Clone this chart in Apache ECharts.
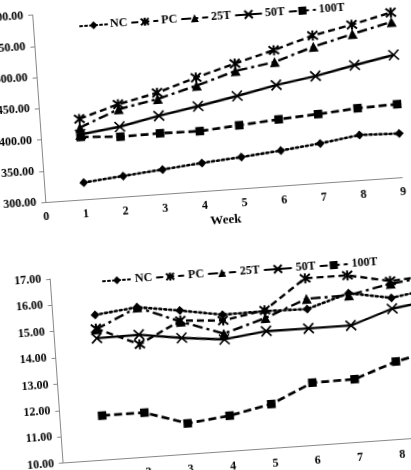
<!DOCTYPE html>
<html>
<head>
<meta charset="utf-8">
<script src="https://cdn.jsdelivr.net/npm/echarts@6/dist/echarts.min.js"></script>
<style>
html,body{margin:0;padding:0;background:#fff;overflow:hidden;width:411px;height:470px;}
#wrap{position:absolute;left:-40px;top:-40px;width:491px;height:550px;transform-origin:245.5px 275px;transform:rotate(-4deg);}
#chart{width:491px;height:550px;}
</style>
</head>
<body>
<div id="wrap"><div id="chart"></div></div>
<script>
// Shared categories
const weeks = [1, 2, 3, 4, 5, 6, 7, 8, 9];
const seriesNames = ['NC', 'PC', '25T', '50T', '100T'];

// Top chart values
const topNC   = [327, 333, 339, 345, 350, 356, 363, 372, 370];
const topPC   = [429, 448, 462, 482, 500, 517, 536, 549, 564];
const top25T  = [415, 440, 452, 469, 488, 498, 518, 534, 549];
const top50T  = [404, 412, 425, 436, 448, 461, 471, 484, 496];
const top100T = [400, 396, 397, 396, 401, 406, 410, 415, 417];

// Bottom chart values
const botNC   = [15.52, 15.70, 15.46, 15.19, 15.21, 15.18, 15.67, 15.38, 15.63];
const botPC   = [15.00, 14.29, 15.08, 14.97, 15.25, 16.35, 16.35, 16.02, 16.13];
const bot25T  = [14.97, 15.69, 15.04, 14.47, 14.95, 15.57, 15.59, 15.92, 16.10];
const bot50T  = [14.63, 14.65, 14.42, 14.25, 14.45, 14.44, 14.44, 14.97, 15.19];
const bot100T = [11.69, 11.69, 11.17, 11.35, 11.68, 12.38, 12.40, 12.96, 13.30];

// Axis ticks
const topY = {min: 300, max: 600, interval: 50};
const botY = {min: 10, max: 17, interval: 1};
const xAxisRange = {min: 0, max: 9, interval: 1};
const xName = 'Week';

const FONT = '"Liberation Serif", "Times New Roman", serif';
const ASTERISK = 'path://M0,0L10,10M10,0L0,10M5,-1L5,11';
const CROSS = 'path://M0,0L10,10M10,0L0,10';

const styles = {
  'NC':   {symbol: 'diamond', size: 9, line: {type: [2, 3], width: 2.6, cap: 'round'}, border: 0},
  'PC':   {symbol: ASTERISK, size: 10, line: {type: [7, 4], width: 2.4}, border: 2},
  '25T':  {symbol: 'triangle', size: 10, line: {type: [10, 4, 3, 4], width: 2.4}, border: 0},
  '50T':  {symbol: CROSS, size: 10, line: {type: 'solid', width: 2.3}, border: 1.7},
  '100T': {symbol: 'rect', size: 8.5, line: {type: [8, 4], width: 2.7}, border: 0}
};

function mk(name, vals, idx) {
  const s = styles[name];
  return {
    name: name, type: 'line', xAxisIndex: idx, yAxisIndex: idx,
    data: weeks.map((w, i) => [w, vals[i]]),
    symbol: s.symbol, symbolSize: s.size, showSymbol: true,
    lineStyle: Object.assign({color: '#000'}, s.line),
    itemStyle: {color: '#000', borderColor: '#000', borderWidth: s.border},
    emphasis: {disabled: true}
  };
}

const labelStyle = {color: '#000', fontFamily: FONT, fontWeight: 'bold', fontSize: 12};

function xAx(idx, withName) {
  const a = {
    type: 'value', gridIndex: idx, min: xAxisRange.min, max: xAxisRange.max, interval: xAxisRange.interval,
    axisLine: {show: true, lineStyle: {color: '#888', width: 1}},
    axisTick: {show: false}, splitLine: {show: false},
    axisLabel: Object.assign({margin: 9}, labelStyle)
  };
  if (withName) {
    a.name = xName; a.nameLocation = 'middle'; a.nameGap = 24;
    a.nameTextStyle = {color: '#000', fontFamily: FONT, fontWeight: 'bold', fontSize: 13};
  }
  return a;
}
function yAx(idx, r) {
  return {
    type: 'value', gridIndex: idx, min: r.min, max: r.max, interval: r.interval,
    axisLine: {show: true, lineStyle: {color: '#888', width: 1}},
    axisTick: {show: true, length: 4, lineStyle: {color: '#888'}},
    splitLine: {show: false},
    axisLabel: Object.assign({margin: 9, formatter: v => v.toFixed(2)}, labelStyle)
  };
}

const topVals = [topNC, topPC, top25T, top50T, top100T];
const botVals = [botNC, botPC, bot25T, bot50T, bot100T];

const chart = echarts.init(document.getElementById('chart'));
chart.setOption({
  animation: false,
  backgroundColor: '#fff',
  grid: [
    {left: 88, top: 43.5, width: 357.8, height: 187.5},
    {left: 87.4, top: 308, width: 381.6, height: 184.5}
  ],
  legend: [
    {data: seriesNames.map(n => ({name: n})), left: 129, top: 47, itemWidth: 27, itemHeight: 10, itemGap: 3,
     textStyle: Object.assign({}, labelStyle, {padding: [0, 0, 0, -2]}), selectedMode: false},
    {data: seriesNames.map(n => ({name: n})), left: 134, top: 303, itemWidth: 28, itemHeight: 10, itemGap: 3,
     textStyle: Object.assign({}, labelStyle, {padding: [0, 0, 0, -1]}), selectedMode: false}
  ],
  xAxis: [xAx(0, true), xAx(1, false)],
  yAxis: [yAx(0, topY), yAx(1, botY)],
  series: [
    ...seriesNames.map((n, i) => mk(n, topVals[i], 0)),
    ...seriesNames.map((n, i) => mk(n, botVals[i], 1))
  ]
});
</script>
</body>
</html>
